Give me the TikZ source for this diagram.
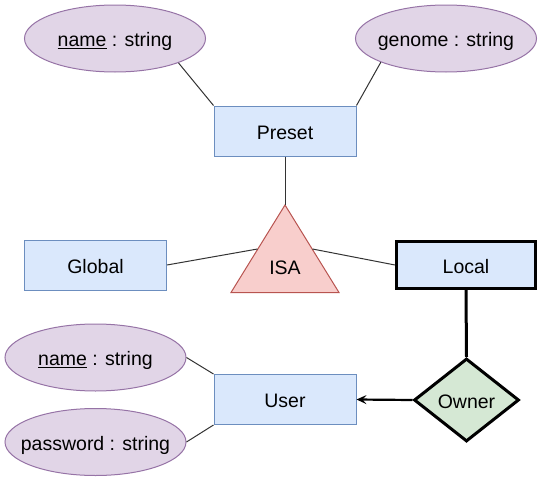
\documentclass[tikz,border=0pt]{standalone}
\usepackage{fontspec}
\setmainfont{Liberation Sans}
\usetikzlibrary{shapes.geometric,arrows.meta}
\definecolor{bfill}{HTML}{DAE8FC}
\definecolor{bline}{HTML}{6C8EBF}
\definecolor{pfill}{HTML}{E1D5E7}
\definecolor{pline}{HTML}{9673A6}
\definecolor{rfill}{HTML}{F8CECC}
\definecolor{rline}{HTML}{B85450}
\definecolor{gfill}{HTML}{D5E8D4}
\definecolor{lcol}{HTML}{333333}
\begin{document}
\begin{tikzpicture}[x=1pt,y=-1pt,
  every node/.style={font=\fontsize{19.5}{23}\selectfont, inner sep=0pt, text height=16.5pt, text depth=0pt},
  entity/.style={rectangle, draw=bline, fill=bfill, line width=1pt, minimum width=142pt, minimum height=50pt},
  thickentity/.style={rectangle, draw=black, fill=bfill, line width=3pt, minimum width=139pt, minimum height=47pt},
  attr/.style={ellipse, draw=pline, fill=pfill, line width=1pt, minimum width=181pt, minimum height=67pt},
  rel/.style={diamond, draw=black, fill=gfill, line width=3pt, aspect=1.25, minimum width=105pt, minimum height=83pt},
  conn/.style={draw=lcol, line width=1pt},
  thickconn/.style={draw=black, line width=3pt}
]
\useasboundingbox (0,0) rectangle (544,482);

\node[attr] (ename) at (115,38.5) {\makebox[0pt]{\underline{name} : string}};
\node[attr] (egenome) at (446,38.5) {\makebox[0pt]{genome : string}};
\node[entity] (preset) at (285,131) {Preset};
\node[entity] (global) at (95.5,265) {Global};
\node[thickentity] (local) at (466,265) {Local};
\node[attr] (uname) at (95.5,357.5) {\makebox[0pt]{\underline{name} : string}};
\node[attr] (upass) at (95.5,442) {\makebox[0pt]{password : string}};
\node[entity] (user) at (285,399.5) {User};
\node[rel] (owner) at (466.5,400) {\makebox[0pt]{Owner}};

\draw[fill=rfill, draw=rline, line width=1pt] (285,205) coordinate (isatop) -- (231,292.5) -- (339,292.5) -- cycle;
\node (isa) at (285,266) {ISA};
\coordinate (isaL) at (257.5,249);
\coordinate (isaR) at (312.5,249);

\draw[conn] (ename.-21) -- (preset.north west);
\draw[conn] (egenome.200) -- (preset.north east);
\draw[conn] (preset.south) -- (isatop);
\draw[conn] (global.east) -- (isaL);
\draw[conn] (local.west) -- (isaR);
\draw[conn] (uname.east) -- (user.north west);
\draw[conn] (upass.east) -- (user.south west);
\draw[thickconn] (local.south) -- (owner.north);
\draw[draw=black, line width=2.2pt, -{Stealth[length=10pt,width=9pt,inset=4pt]}] (owner.west) -- (user.east);
\end{tikzpicture}
\end{document}
